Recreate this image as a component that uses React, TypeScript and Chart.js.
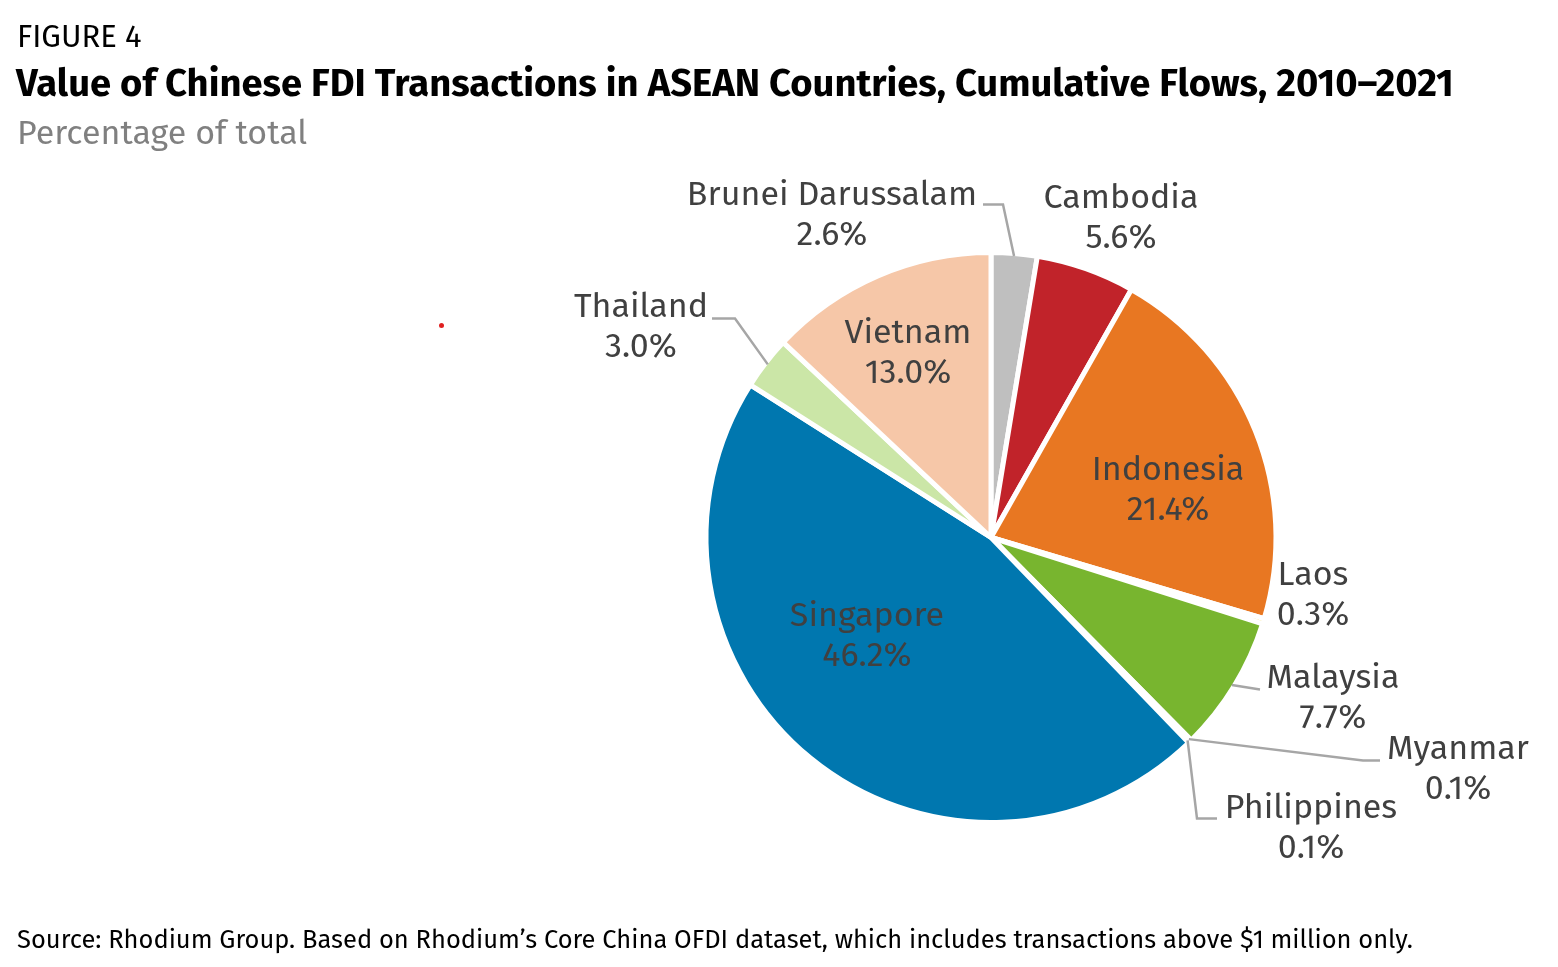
import React, { useEffect, useRef } from "react";
import { Chart, registerables } from "chart.js";

Chart.register(...registerables);

const countries = [
  "Brunei Darussalam",
  "Cambodia",
  "Indonesia",
  "Laos",
  "Malaysia",
  "Myanmar",
  "Philippines",
  "Singapore",
  "Thailand",
  "Vietnam",
];
const shares = [2.6, 5.6, 21.4, 0.3, 7.7, 0.1, 0.1, 46.2, 3.0, 13.0];
const sliceColors = [
  "#bfbfbf",
  "#c1232a",
  "#e87722",
  "#f2c500",
  "#78b52f",
  "#8a8a8a",
  "#5a5a5a",
  "#0077af",
  "#cbe6a7",
  "#f6c7a8",
];

const FONT = "'Fira Sans', 'Noto Sans', sans-serif";

// label placement relative to pie centre (px), and optional leader elbows (also relative to centre)
const labelLayout: Record<string, { dx: number; dy: number; leader?: number[][] }> = {
  "Brunei Darussalam": { dx: -159, dy: -342, leader: [[12, -333], [-8, -333]] },
  Cambodia: { dx: 130, dy: -339 },
  Indonesia: { dx: 177, dy: -67 },
  Laos: { dx: 322, dy: 38 },
  Malaysia: { dx: 342, dy: 141, leader: [[269, 152]] },
  Myanmar: { dx: 467, dy: 212, leader: [[372, 223], [389, 223]] },
  Philippines: { dx: 320, dy: 271, leader: [[206, 281], [226, 281]] },
  Singapore: { dx: -124, dy: 79 },
  Thailand: { dx: -350, dy: -230, leader: [[-256, -219], [-279, -219]] },
  Vietnam: { dx: -83, dy: -204 },
};

const labelPlugin = {
  id: "pieLabels",
  afterDatasetsDraw(chart: any) {
    const ctx = chart.ctx;
    const meta = chart.getDatasetMeta(0);
    ctx.save();
    meta.data.forEach((arc: any, i: number) => {
      const p = arc.getProps(["x", "y", "startAngle", "endAngle", "outerRadius"], true);
      const name = countries[i];
      const lay = labelLayout[name];
      if (!lay) return;
      const mid = (p.startAngle + p.endAngle) / 2;
      const visR = p.outerRadius - 2.5;
      if (lay.leader) {
        ctx.strokeStyle = "#a6a6a6";
        ctx.lineWidth = 2.5;
        ctx.beginPath();
        ctx.moveTo(p.x + Math.cos(mid) * visR, p.y + Math.sin(mid) * visR);
        lay.leader.forEach((pt) => ctx.lineTo(p.x + pt[0], p.y + pt[1]));
        ctx.stroke();
      }
      ctx.fillStyle = "#404040";
      ctx.font = `34px ${FONT}`;
      ctx.textAlign = "center";
      ctx.textBaseline = "middle";
      ctx.fillText(name, p.x + lay.dx, p.y + lay.dy);
      ctx.fillText(shares[i].toFixed(1) + "%", p.x + lay.dx, p.y + lay.dy + 40);
    });
    ctx.restore();
  },
};

export default function App() {
  const canvasRef = useRef<HTMLCanvasElement | null>(null);

  useEffect(() => {
    if (!canvasRef.current) return;
    const chart = new Chart(canvasRef.current, {
      type: "pie",
      data: {
        labels: countries,
        datasets: [
          {
            data: shares,
            backgroundColor: sliceColors,
            borderColor: "#ffffff",
            borderWidth: 5,
          },
        ],
      },
      options: {
        animation: false,
        responsive: false,
        layout: { padding: { left: 703.5, right: 279.5, top: 250, bottom: 142 } },
        plugins: {
          legend: { display: false },
          tooltip: { enabled: false },
          title: { display: false },
        },
      },
      plugins: [labelPlugin],
    });
    return () => chart.destroy();
  }, []);

  return (
    <div
      style={{
        position: "fixed",
        left: 0,
        top: 0,
        width: 1558,
        height: 967,
        background: "#ffffff",
        fontFamily: FONT,
      }}
    >
      <canvas ref={canvasRef} width={1558} height={967} style={{ position: "absolute", left: 0, top: 0 }} />
      <div style={{ position: "absolute", left: 17, top: 19, fontSize: 31, color: "#000", lineHeight: "36px", whiteSpace: "nowrap" }}>
        FIGURE 4
      </div>
      <div
        style={{
          position: "absolute",
          left: 16,
          top: 60,
          fontSize: 38.2,
          fontWeight: 700,
          color: "#000",
          lineHeight: "46px",
          whiteSpace: "nowrap",
        }}
      >
        Value of Chinese FDI Transactions in ASEAN Countries, Cumulative Flows, 2010–2021
      </div>
      <div style={{ position: "absolute", left: 17, top: 113, fontSize: 34, color: "#808080", lineHeight: "40px", whiteSpace: "nowrap" }}>
        Percentage of total
      </div>
      <div
        style={{
          position: "absolute",
          left: 441 - 2.5,
          top: 325 - 2.5,
          width: 5,
          height: 5,
          borderRadius: 2.5,
          background: "#e02020",
        }}
      />
      <div
        style={{
          position: "absolute",
          left: 17,
          top: 924,
          fontSize: 25.5,
          color: "#000",
          lineHeight: "32px",
          whiteSpace: "nowrap",
        }}
      >
        Source: Rhodium Group. Based on Rhodium’s Core China OFDI dataset, which includes transactions above $1 million only.
      </div>
    </div>
  );
}
